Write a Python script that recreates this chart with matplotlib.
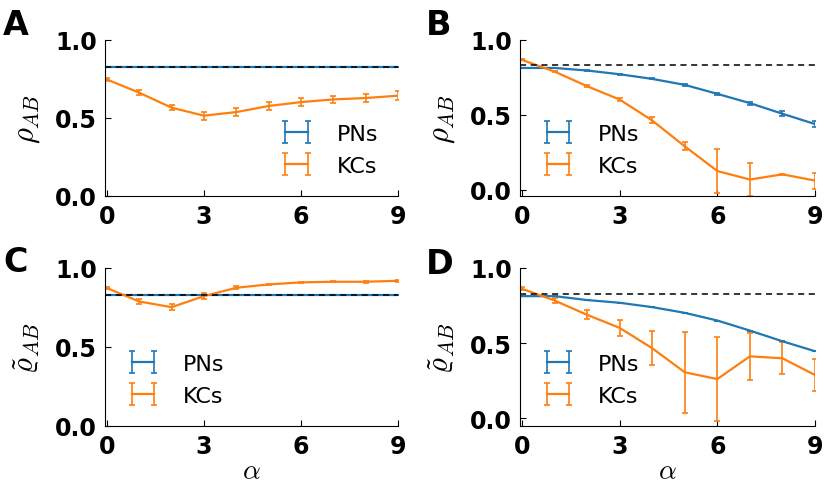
import matplotlib
matplotlib.use("Agg")
import matplotlib.pyplot as plt

alpha = [0, 1, 2, 3, 4, 5, 6, 7, 8, 9]
baseline = 0.83

# A: rho_AB, shuffled
pn_a = [0.828] * 10
pn_a_err = [0.0] * 10
kc_a = [0.747, 0.662, 0.566, 0.515, 0.538, 0.577, 0.602, 0.619, 0.628, 0.643]
kc_a_err = [0.012, 0.015, 0.015, 0.025, 0.025, 0.025, 0.028, 0.025, 0.028, 0.03]

# B: rho_AB, noise
pn_b = [0.813, 0.813, 0.796, 0.771, 0.740, 0.700, 0.640, 0.578, 0.507, 0.438]
pn_b_err = [0.002, 0.002, 0.003, 0.003, 0.004, 0.005, 0.007, 0.01, 0.015, 0.02]
kc_b = [0.867, 0.789, 0.691, 0.602, 0.462, 0.289, 0.124, 0.067, 0.102, 0.060]
kc_b_err = [0.003, 0.004, 0.006, 0.008, 0.02, 0.027, 0.15, 0.11, 0.004, 0.054]

# C: q_AB, shuffled
pn_c = [0.826] * 10
pn_c_err = [0.0] * 10
kc_c = [0.873, 0.788, 0.752, 0.822, 0.875, 0.896, 0.909, 0.913, 0.913, 0.919]
kc_c_err = [0.006, 0.018, 0.018, 0.018, 0.008, 0.005, 0.004, 0.004, 0.005, 0.005]

# D: q_AB, noise
pn_d = [0.813, 0.813, 0.787, 0.769, 0.740, 0.702, 0.651, 0.584, 0.513, 0.447]
pn_d_err = [0.0] * 10
kc_d = [0.862, 0.784, 0.689, 0.602, 0.467, 0.307, 0.262, 0.413, 0.400, 0.289]
kc_d_err = [0.01, 0.015, 0.03, 0.053, 0.113, 0.27, 0.28, 0.158, 0.105, 0.104]

panels = [
    ("A", pn_a, pn_a_err, kc_a, kc_a_err, r"$\rho_{AB}$", (0.0, 1.0), "lower right"),
    ("B", pn_b, pn_b_err, kc_b, kc_b_err, r"$\rho_{AB}$", (-0.043, 1.0), "lower left"),
    ("C", pn_c, pn_c_err, kc_c, kc_c_err, r"$\tilde{\varrho}_{AB}$", (0.0, 1.0), "lower left"),
    ("D", pn_d, pn_d_err, kc_d, kc_d_err, r"$\tilde{\varrho}_{AB}$", (-0.05, 1.0), "lower left"),
]

plt.rcParams["mathtext.fontset"] = "cm"
plt.rcParams["font.family"] = "DejaVu Sans"

fig = plt.figure(figsize=(8.26, 4.85), dpi=100)
W, H = 826, 485
# axes boxes in pixels: left, right, top, bottom
boxes = [(105, 398, 41, 197), (520, 815, 41, 197),
         (105, 398, 269, 427), (520, 815, 269, 427)]
letter_pos = [(3, 9), (426, 9), (3, 246), (426, 248)]

for (letter, pn, pn_err, kc, kc_err, ylab, ylim, loc), box, lp in zip(panels, boxes, letter_pos):
    l, r, t, b = box
    ax = fig.add_axes([l / W, 1 - b / H, (r - l) / W, (b - t) / H])
    ax.errorbar(alpha, pn, yerr=pn_err, color="#1f77b4", lw=1.6, capsize=2.2,
                elinewidth=1.2, capthick=1.2, label="PNs")
    ax.errorbar(alpha, kc, yerr=kc_err, color="#ff7f0e", lw=1.6, capsize=2.2,
                elinewidth=1.2, capthick=1.2, label="KCs")
    ax.axhline(baseline, color="black", ls="--", lw=1.1, dashes=(4, 3), zorder=5)
    ax.set_xlim(-0.06, 9)
    ax.set_ylim(*ylim)
    ax.set_xticks([0, 3, 6, 9])
    ax.set_yticks([0.0, 0.5, 1.0])
    ax.set_yticklabels(["0.0", "0.5", "1.0"])
    ax.spines["top"].set_visible(False)
    ax.spines["right"].set_visible(False)
    ax.tick_params(direction="in", length=4, width=0.8, labelsize=17, pad=6)
    for lab in ax.get_xticklabels() + ax.get_yticklabels():
        lab.set_fontweight("bold")
    ax.set_ylabel(ylab, fontsize=22)
    ax.yaxis.set_label_coords(-0.215, 0.5)
    if letter in ("C", "D"):
        ax.set_xlabel(r"$\alpha$", fontsize=20)
        ax.xaxis.set_label_coords(0.5, -0.19)
    ax.legend(loc=loc, frameon=False, fontsize=16, numpoints=2,
              handlelength=1.6, handletextpad=1.0, labelspacing=0.55)
    fig.text(lp[0] / W, 1 - lp[1] / H, letter, fontsize=24, fontweight="bold",
             ha="left", va="top")

fig.savefig("out.png", dpi=100)
